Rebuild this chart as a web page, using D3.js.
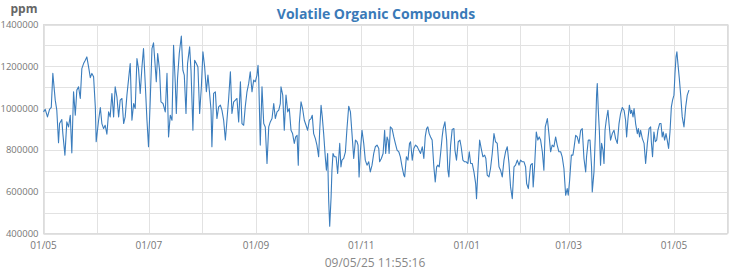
<!DOCTYPE html>
<html>
<head>
<meta charset="utf-8">
<script src="https://cdn.jsdelivr.net/npm/d3@7"></script>
<style>
  html, body { margin: 0; padding: 0; background: #fff; }
  svg { display: block; font-family: "Open Sans", sans-serif; }
</style>
</head>
<body>
<svg id="chart" width="750" height="270"></svg>
<script>
// ---- Data ----
const title = "Volatile Organic Compounds";
const unitLabel = "ppm";
const timestamp = "09/05/25 11:55:16";
const startDate = "2024-05-01";
const endDate = "2025-06-01";
const yTickValues = [400000, 600000, 800000, 1000000, 1200000, 1400000];

// days since startDate
const dayOffset = [
  0.0,1.0,2.3,3.5,4.5,5.4,6.8,7.7,8.7,9.3,10.6,11.2,12.4,13.5,14.5,15.5,16.4,17.4,18.4,19.3,
  20.3,21.3,22.2,23.2,24.2,25.1,26.1,27.1,28.0,29.0,30.0,30.5,31.9,32.9,33.8,34.8,35.7,36.7,37.7,38.6,
  39.6,40.6,41.5,42.5,43.5,44.4,45.4,46.4,47.3,48.3,49.3,50.2,51.2,52.2,53.1,54.1,55.0,56.0,57.0,57.9,
  58.9,59.9,60.8,61.8,62.8,63.7,64.7,65.3,66.1,67.2,68.0,69.2,70.5,71.5,72.4,73.4,74.4,75.3,76.3,76.9,
  77.6,78.6,79.8,80.7,81.5,82.5,83.4,84.6,85.4,86.5,87.5,88.5,89.4,90.4,91.4,92.3,93.3,94.3,95.2,96.0,
  97.0,97.5,98.5,99.5,100.4,101.4,102.4,103.3,104.3,105.3,106.2,107.2,108.2,109.1,110.1,111.1,112.0,113.0,114.0,114.9,
  115.9,116.8,117.8,118.8,119.7,120.7,121.7,122.6,123.6,124.2,124.6,125.5,126.5,127.5,128.4,129.4,130.4,131.3,132.3,133.3,
  134.2,135.2,136.2,137.1,137.5,138.5,139.4,140.4,141.4,142.3,143.3,144.2,145.2,146.0,146.8,147.5,148.1,149.1,150.0,151.0,
  152.0,152.9,153.9,154.9,155.6,156.4,157.4,158.3,159.3,159.9,160.7,161.4,162.2,163.2,163.8,164.5,165.1,165.7,166.5,167.0,
  167.6,168.4,169.4,170.3,170.9,171.5,172.2,172.8,173.8,174.8,175.7,176.7,177.7,178.6,179.6,180.6,181.5,182.1,182.7,183.5,
  184.4,185.4,186.3,187.3,188.3,189.2,190.2,191.2,192.1,193.1,194.1,194.6,195.6,196.6,197.5,198.1,198.9,199.5,200.1,200.8,
  201.8,202.8,203.7,204.7,205.7,206.6,207.6,208.6,209.1,210.1,211.0,211.9,212.5,213.5,214.4,215.4,216.4,217.3,218.3,219.3,
  220.2,221.0,221.8,222.5,223.3,224.1,225.0,226.0,226.8,227.6,228.3,229.1,229.9,230.8,231.4,232.4,233.4,234.1,234.7,235.7,
  236.6,237.6,238.2,239.1,240.1,241.1,241.8,242.8,243.8,244.7,245.7,246.5,247.3,248.2,249.2,250.2,250.7,251.5,252.5,253.4,
  254.4,255.4,256.1,256.9,257.9,258.8,259.8,260.8,261.7,262.7,263.7,264.6,265.6,266.6,267.5,268.5,269.5,270.4,271.4,272.4,
  273.3,274.3,275.3,276.2,277.2,278.2,279.1,279.7,280.7,281.6,282.0,283.0,283.5,284.3,285.3,286.2,287.0,287.8,288.8,289.7,
  290.5,291.7,292.6,293.6,294.5,295.5,296.5,297.4,298.4,299.4,300.3,301.3,302.3,303.2,303.8,304.6,305.6,306.5,307.1,308.1,
  309.0,310.0,311.0,311.9,312.9,313.9,314.4,315.4,316.4,317.3,317.7,318.7,319.7,320.2,320.6,321.2,321.8,322.5,323.1,323.9,
  324.5,325.1,325.8,326.8,327.4,328.3,329.3,330.3,331.2,332.2,333.2,334.1,335.1,336.1,337.0,337.6,338.4,339.2,339.9,340.5,
  341.3,341.9,342.8,343.8,344.4,345.1,345.7,346.7,347.7,348.6,349.6,350.6,351.5,351.9,352.6,353.4,354.2,355.0,355.7,356.7,
  357.5,358.2,358.8,359.6,360.4,361.1,361.9,362.7,363.5,364.2,365.0,365.6,366.2,366.7,367.3,368.1,368.9,369.8,370.8,371.8,
  372.7,373.7
];

const ppm = [
  982000,994000,958000,994000,1003000,1166000,1038000,990000,834000,926000,945000,878000,775000,934000,910000,966000,786000,1078000,966000,1086000,
  1102000,1046000,1189000,1213000,1229000,1245000,1197000,1146000,1166000,1150000,1006000,839000,942000,1003000,926000,902000,918000,875000,982000,958000,
  1070000,958000,1102000,1054000,958000,1038000,1046000,926000,958000,1062000,1142000,1213000,942000,1022000,998000,1237000,1189000,1070000,1197000,1285000,
  1118000,942000,815000,1038000,1285000,1312000,1197000,1126000,1261000,1181000,1030000,1022000,982000,1166000,862000,966000,942000,1301000,1118000,974000,
  1142000,1261000,1345000,1181000,1158000,974000,1213000,1293000,1181000,894000,1229000,1213000,1197000,974000,1102000,1269000,1197000,1078000,1158000,1086000,
  990000,815000,1070000,1078000,950000,1006000,1014000,990000,942000,847000,942000,1046000,1174000,974000,1030000,1038000,1046000,934000,1126000,926000,
  918000,1006000,1078000,1118000,1174000,1078000,1134000,1126000,1158000,1205000,1142000,823000,1102000,926000,910000,735000,910000,934000,950000,1022000,
  950000,982000,990000,1022000,1102000,1062000,894000,1062000,982000,998000,894000,878000,831000,862000,870000,727000,926000,1030000,998000,942000,
  918000,894000,942000,950000,966000,878000,854000,823000,767000,894000,1013000,958000,878000,759000,703000,783000,559000,435000,575000,703000,
  783000,767000,767000,687000,759000,831000,719000,751000,759000,791000,902000,1009000,982000,878000,759000,847000,839000,823000,671000,799000,
  894000,831000,751000,727000,743000,695000,727000,783000,815000,823000,807000,743000,759000,783000,894000,783000,862000,847000,783000,910000,
  902000,862000,831000,799000,791000,767000,719000,679000,671000,767000,751000,831000,839000,751000,807000,823000,815000,799000,783000,815000,
  759000,862000,902000,910000,878000,862000,847000,719000,647000,719000,727000,719000,783000,862000,902000,934000,847000,703000,671000,823000,
  898000,902000,799000,751000,839000,847000,815000,751000,743000,743000,735000,791000,735000,735000,695000,639000,567000,703000,847000,807000,
  767000,775000,759000,679000,671000,711000,783000,878000,839000,831000,719000,703000,671000,751000,791000,815000,735000,623000,567000,719000,
  727000,751000,727000,751000,743000,743000,719000,639000,615000,695000,727000,735000,623000,719000,886000,847000,862000,847000,791000,703000,
  910000,950000,878000,791000,823000,815000,862000,823000,791000,791000,767000,711000,583000,615000,583000,655000,775000,775000,807000,870000,
  862000,831000,894000,902000,759000,695000,767000,847000,847000,719000,599000,695000,918000,1062000,1118000,990000,894000,727000,831000,799000,
  735000,894000,942000,990000,926000,847000,878000,894000,854000,831000,926000,974000,1003000,990000,942000,862000,950000,1014000,974000,990000,
  958000,998000,926000,878000,902000,862000,894000,854000,831000,735000,831000,902000,910000,839000,767000,886000,839000,847000,894000,926000,
  926000,862000,886000,847000,878000,847000,807000,886000,1006000,1038000,1062000,1166000,1245000,1269000,1213000,1142000,1062000,958000,910000,1006000,
  1062000,1086000
];

// ---- Chart ----
const W = 750, H = 270;
const margin = { left: 43.5, right: 22.5, top: 24.5, bottom: 36.5 };
const svg = d3.select("#chart");

const parse = d3.utcParse("%Y-%m-%d");
const t0 = parse(startDate), t1 = parse(endDate);

const x = d3.scaleUtc().domain([t0, t1]).range([margin.left, W - margin.right]);
const y = d3.scaleLinear().domain([400000, 1400000]).range([H - margin.bottom, margin.top]);

const gridColor = "#e2e2e2";

// horizontal grid
const yGrid = d3.range(400000, 1400001, 100000);
svg.append("g").selectAll("line").data(yGrid).join("line")
  .attr("x1", margin.left).attr("x2", W - margin.right)
  .attr("y1", d => Math.round(y(d)) + 0.5).attr("y2", d => Math.round(y(d)) + 0.5)
  .attr("stroke", gridColor).attr("stroke-width", 1);

// vertical grid (monthly)
const months = d3.utcMonth.range(t0, d3.utcDay.offset(t1, 1));
svg.append("g").selectAll("line").data(months).join("line")
  .attr("x1", d => Math.round(x(d)) + 0.5).attr("x2", d => Math.round(x(d)) + 0.5)
  .attr("y1", margin.top).attr("y2", H - margin.bottom)
  .attr("stroke", gridColor).attr("stroke-width", 1);

// frame
svg.append("rect")
  .attr("x", margin.left).attr("y", margin.top)
  .attr("width", W - margin.right - margin.left)
  .attr("height", H - margin.bottom - margin.top)
  .attr("fill", "none").attr("stroke", "#dcdcdc").attr("stroke-width", 1);

// y tick labels
svg.append("g").selectAll("text").data(yTickValues).join("text")
  .attr("x", 38.5).attr("y", d => y(d) + 3.5)
  .attr("text-anchor", "end")
  .attr("font-size", "9.5px").attr("fill", "#777")
  .text(d => d3.format("d")(d));

// x tick labels every 2 months
const fmt = d3.utcFormat("%d/%m");
const xLabels = d3.utcMonth.every(2).range(t0, t1);
svg.append("g").selectAll("text").data(xLabels).join("text")
  .attr("x", d => x(d)).attr("y", 248.5)
  .attr("text-anchor", "middle")
  .attr("font-size", "10px").attr("fill", "#777")
  .text(d => fmt(d));

// line
const pts = dayOffset.map((d, i) => ({ t: new Date(t0.getTime() + d * 864e5), v: ppm[i] }));
const line = d3.line().x(d => x(d.t)).y(d => y(d.v));
svg.append("path").datum(pts)
  .attr("d", line)
  .attr("fill", "none")
  .attr("stroke", "#3b7dbd")
  .attr("stroke-width", 1.1)
  .attr("stroke-linejoin", "round");

// title
svg.append("text")
  .attr("x", 376).attr("y", 19)
  .attr("text-anchor", "middle")
  .attr("font-size", "14px").attr("font-weight", "bold")
  .attr("fill", "#3a7ab8")
  .text(title);

// unit label
svg.append("text")
  .attr("x", 24).attr("y", 13)
  .attr("text-anchor", "middle")
  .attr("font-size", "12px").attr("font-weight", "bold")
  .attr("fill", "#666")
  .text(unitLabel);

// timestamp
svg.append("text")
  .attr("x", 375).attr("y", 267)
  .attr("text-anchor", "middle")
  .attr("font-size", "12px").attr("fill", "#888")
  .text(timestamp);
</script>
</body>
</html>
